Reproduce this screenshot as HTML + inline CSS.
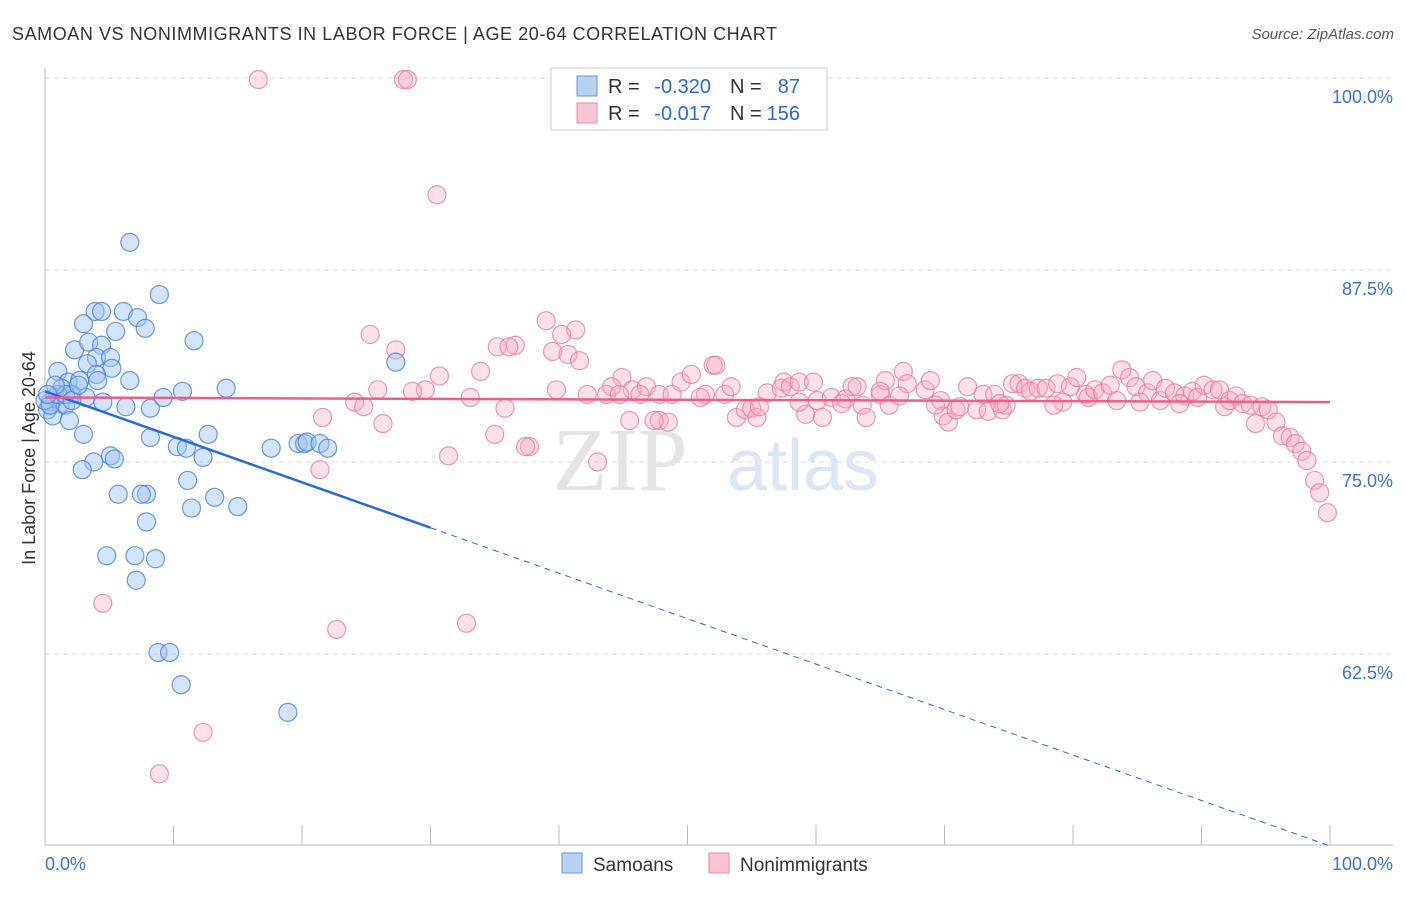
<!DOCTYPE html>
<html><head><meta charset="utf-8"><style>
body{margin:0;background:#fff;font-family:"Liberation Sans",sans-serif;}
svg text{font-family:"Liberation Sans",sans-serif;}
</style></head><body>
<svg id="chart" width="1406" height="892">
<text x="12" y="40" font-size="18" fill="#333" textLength="765">SAMOAN VS NONIMMIGRANTS IN LABOR FORCE | AGE 20-64 CORRELATION CHART</text>
<text x="1394" y="39" font-size="15" fill="#555" font-style="italic" text-anchor="end">Source: ZipAtlas.com</text>
<g id="grid"></g>
<text x="620" y="490" font-size="90" fill="#e4e4e4" text-anchor="middle" style="font-family:'Liberation Serif',serif">ZIP</text>
<text x="803" y="490" font-size="72" fill="#dce6f4" text-anchor="middle">atlas</text>
<g id="axes"></g>
<g id="pink"></g>
<g id="blue"></g>
<g id="trends"></g>
<text x="35" y="458" font-size="18" fill="#333" text-anchor="middle" transform="rotate(-90 35 458)">In Labor Force | Age 20-64</text>
<g>
<rect x="551" y="68" width="276" height="62" fill="#fff" stroke="#ccc"/>
<rect x="577" y="76" width="20" height="20" fill="#b9d0f0" stroke="#6a9ad8"/>
<rect x="577" y="103" width="20" height="20" fill="#f8c4d4" stroke="#e98aa8"/>
<text x="608" y="93" font-size="20" fill="#333">R =</text>
<text x="711" y="93" font-size="20" fill="#2a6ad8" text-anchor="end">-0.320</text>
<text x="730" y="93" font-size="20" fill="#333">N =</text>
<text x="800" y="93" font-size="20" fill="#2a6ad8" text-anchor="end">87</text>
<text x="608" y="120" font-size="20" fill="#333">R =</text>
<text x="711" y="120" font-size="20" fill="#2a6ad8" text-anchor="end">-0.017</text>
<text x="730" y="120" font-size="20" fill="#333">N =</text>
<text x="800" y="120" font-size="20" fill="#2a6ad8" text-anchor="end">156</text>
</g>
<g>
<rect x="562" y="853" width="20" height="20" fill="#b9d0f0" stroke="#6a9ad8"/>
<text x="593" y="871" font-size="19" fill="#333">Samoans</text>
<rect x="709" y="853" width="20" height="20" fill="#f8c4d4" stroke="#e98aa8"/>
<text x="740" y="871" font-size="19" fill="#333">Nonimmigrants</text>
</g>
</svg>
<script>
const blueX=[6.6,8.9,3.0,3.9,4.4,6.1,7.2,7.8,5.5,11.6,2.3,3.4,4.4,4.0,5.1,3.3,5.2,4.0,1.0,1.8,2.7,4.1,6.6,1.3,2.1,0.8,0.4,1.2,0.2,0.6,1.6,3.2,4.5,6.3,8.2,9.2,10.7,14.1,27.3,1.9,3.0,3.8,5.1,5.4,2.9,8.2,10.3,11.0,12.3,12.7,17.6,19.7,20.2,20.4,21.4,22.0,5.7,7.9,7.5,11.1,13.2,11.4,15.0,7.9,4.8,7.0,8.6,7.1,8.8,9.7,10.6,18.9,0.0,0.4,1.0,1.6,2.1,2.6,0.8,0.2];
const blueY=[89.3,85.9,84.0,84.8,84.8,84.8,84.4,83.7,83.5,82.9,82.3,82.8,82.6,81.8,81.8,81.4,81.1,80.7,80.9,80.2,80.3,80.3,80.3,79.8,79.4,79.2,78.9,78.8,78.4,78.0,78.7,79.2,78.9,78.6,78.5,79.2,79.6,79.8,81.5,77.7,76.8,75.0,75.4,75.2,74.5,76.6,76.0,75.9,75.3,76.8,75.9,76.2,76.2,76.3,76.2,75.9,72.9,72.9,72.9,73.8,72.7,72.0,72.1,71.1,68.9,68.9,68.7,67.3,62.6,62.6,60.5,58.7,79.0,78.7,79.4,79.4,79.0,80.0,80.0,79.4];
const pinkX=[16.6,27.9,28.2,30.5,39.0,41.3,40.2,25.3,35.2,36.6,36.1,39.5,40.7,41.6,27.3,33.9,30.7,29.6,28.6,25.9,24.1,24.8,21.6,26.3,35.8,35.0,37.7,37.4,31.4,21.4,43.0,39.8,33.1,42.2,43.7,44.9,45.7,46.8,47.8,48.8,49.5,50.3,51.4,52.0,52.2,52.9,53.4,53.8,54.5,55.0,55.4,56.2,57.3,57.5,58.0,58.7,59.2,59.8,60.1,60.5,61.2,62.3,62.8,63.2,63.6,63.9,65.0,65.4,65.7,66.8,67.1,68.5,68.9,69.7,69.9,70.3,70.9,71.8,72.5,73.0,73.4,73.9,74.5,74.8,75.3,75.8,76.3,76.7,77.3,77.9,78.8,79.2,79.8,80.3,81.0,81.2,81.7,82.3,82.9,83.4,83.8,84.4,84.9,85.8,86.2,86.8,87.2,87.9,88.7,89.3,89.7,90.2,90.9,91.4,91.8,92.2,92.7,93.2,93.8,94.2,94.7,95.2,95.8,96.3,96.9,97.3,97.8,98.2,98.8,99.2,99.8,4.5,22.7,32.8,12.3,8.9,44.1,44.7,46.3,45.5,47.8,48.5,88.3,85.2,78.5,74.3,71.2,69.3,66.5,65.0,62.0,58.7,55.6,51.0,47.4];
const pinkY=[99.9,99.9,99.9,92.4,84.2,83.6,83.3,83.3,82.5,82.6,82.5,82.2,82.0,81.6,82.3,80.9,80.6,79.7,79.6,79.7,78.9,78.6,77.9,77.5,78.5,76.8,76.0,76.0,75.4,74.5,75.0,79.7,79.2,79.4,79.4,80.5,79.7,79.9,79.4,79.4,80.2,80.7,79.4,81.3,81.3,79.4,79.9,77.9,78.4,78.5,77.9,79.5,79.8,80.2,79.9,80.2,78.1,80.2,79.0,77.9,79.2,79.1,79.9,79.9,78.7,77.9,79.4,80.3,78.7,80.9,80.1,79.7,80.3,79.0,78.0,77.6,78.4,79.9,78.4,79.4,78.3,79.4,78.4,78.7,80.1,80.1,79.8,79.6,79.8,79.8,80.1,78.9,79.9,80.5,79.4,79.2,79.7,79.5,80.0,79.0,81.0,80.5,79.9,79.5,80.3,79.0,79.8,79.5,79.3,79.6,79.2,80.0,79.7,79.7,78.6,79.0,79.3,78.8,78.7,77.5,78.6,78.4,77.6,76.7,76.6,76.2,75.7,75.1,73.8,73.0,71.7,65.8,64.1,64.5,57.4,54.7,79.9,79.4,79.4,77.7,77.7,77.6,78.8,78.9,78.7,78.8,78.6,78.7,79.3,79.6,78.8,78.9,78.6,79.2,77.7];
const yTicks=[100,87.5,75,62.5];
const yTickLabels=["100.0%","87.5%","75.0%","62.5%"];
const xTicks=[0,10,20,30,40,50,60,70,80,90,100];
const blueTrend=[79.6,-0.296,30];
const pinkTrend=[79.2,78.9];
const NS="http://www.w3.org/2000/svg";
const X=v=>45+v*12.85, Y=v=>78+(100-v)*15.36;
function mk(t,a,p){const e=document.createElementNS(NS,t);for(const k in a)e.setAttribute(k,a[k]);p.appendChild(e);return e;}
const grid=document.getElementById('grid'),axes=document.getElementById('axes');
yTicks.forEach((t,i)=>{
 const l=mk('line',{x1:45,x2:1393,y1:Y(t),y2:Y(t),stroke:'#ddd','stroke-dasharray':'5,4'},grid);
 
 
 const tx=mk('text',{x:1393,y:Y(t)+25,'font-size':18,fill:'#3a72d8','text-anchor':'end'},axes);
 tx.textContent=yTickLabels[i];
 
 
});
mk('line',{x1:45,x2:45,y1:68,y2:845,stroke:'#bbb'},axes);
mk('line',{x1:45,x2:1393,y1:845,y2:845,stroke:'#bbb'},axes);
xTicks.slice(1).forEach(t=>{const l=mk('line',{x1:X(t),x2:X(t),y1:825,y2:845,stroke:'#bbb'},axes);
 
 });
let a=mk('text',{x:45,y:870,'font-size':18,fill:'#3a72d8'},axes);a.textContent='0.0%';


a=mk('text',{x:1393,y:870,'font-size':18,fill:'#3a72d8','text-anchor':'end'},axes);a.textContent='100.0%';


const pg=document.getElementById('pink');
pinkX.forEach((x,i)=>{const c=mk('circle',{cx:X(x),cy:Y(pinkY[i]),r:9,fill:'rgba(245,170,195,0.35)',stroke:'rgba(230,120,160,0.75)','stroke-width':1.2},pg);
 
 });
const bg=document.getElementById('blue');
blueX.forEach((x,i)=>{const c=mk('circle',{cx:X(x),cy:Y(blueY[i]),r:9,fill:'rgba(160,195,240,0.45)',stroke:'rgba(70,130,215,0.8)','stroke-width':1.2},bg);
 
 });
const tg=document.getElementById('trends');
const bt=x=>blueTrend[0]+blueTrend[1]*x;
let l=mk('line',{x1:X(0),y1:Y(bt(0)),x2:X(blueTrend[2]),y2:Y(bt(blueTrend[2])),stroke:'#2a6ad8','stroke-width':2.5},tg);


l=mk('line',{x1:X(blueTrend[2]),y1:Y(bt(blueTrend[2])),x2:X(100),y2:Y(bt(100)),stroke:'#2a6ad8','stroke-width':1,'stroke-dasharray':'6,5'},tg);


l=mk('line',{x1:X(0),y1:Y(pinkTrend[0]),x2:X(100),y2:Y(pinkTrend[1]),stroke:'#e8608c','stroke-width':2.5},tg);


</script>
</body></html>
